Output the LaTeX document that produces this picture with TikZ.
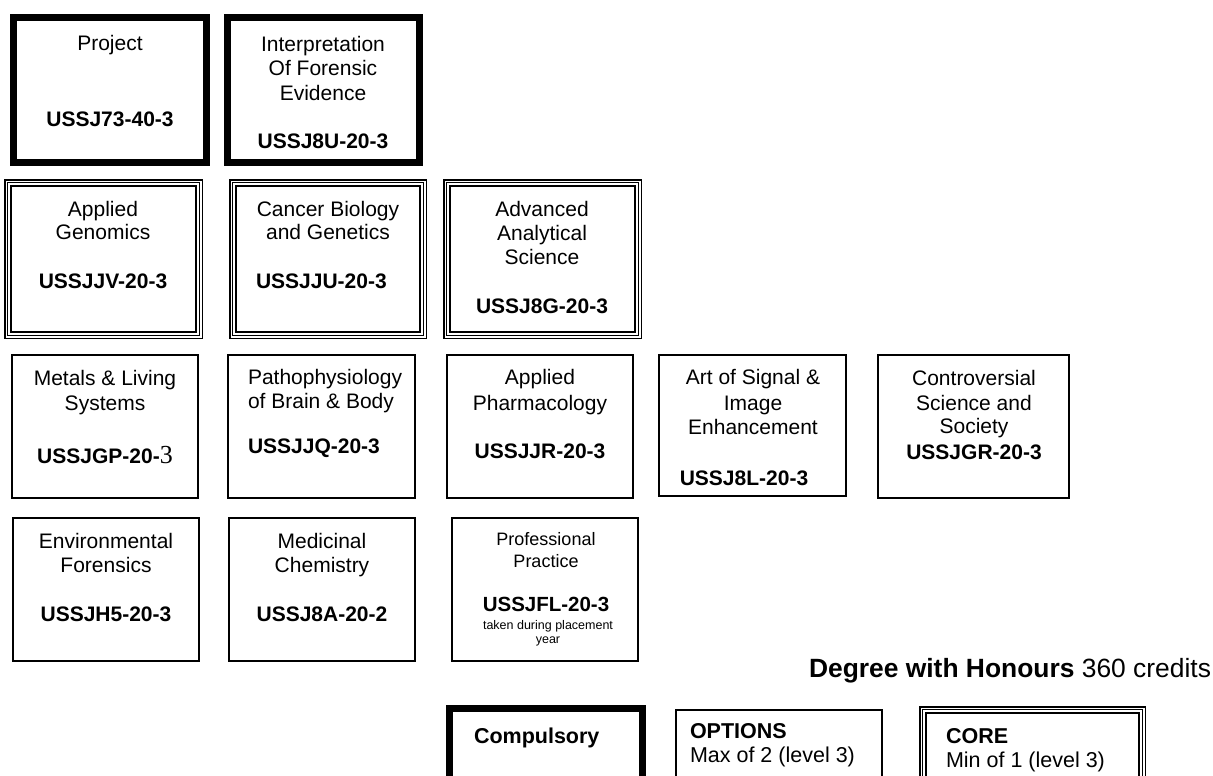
\documentclass[tikz,border=0pt]{standalone}
\usepackage{fontspec}
\setmainfont{Liberation Sans}
\newfontfamily\serifthree{Liberation Serif}
\tikzset{
  every node/.style={inner sep=0pt, outer sep=0pt},
  thinbox/.style={draw, line width=1.6pt, rectangle},
  heavybox/.style={draw, line width=7pt, rectangle},
  triout/.style={draw, line width=1.5pt, rectangle},
  trimid/.style={draw, line width=1pt, rectangle},
  triin/.style={draw, line width=2pt, rectangle},
  ttl/.style={font=\fontsize{21}{24}\selectfont, anchor=base},
  ttlw/.style={font=\fontsize{21}{24}\selectfont, anchor=base west},
  code/.style={font=\fontsize{21}{24}\selectfont\bfseries, anchor=base},
  codew/.style={font=\fontsize{21}{24}\selectfont\bfseries, anchor=base west},
  smallttl/.style={font=\fontsize{18}{22}\selectfont, anchor=base},
  smallcode/.style={font=\fontsize{20.5}{24}\selectfont\bfseries, anchor=base},
  tiny/.style={font=\fontsize{12.5}{14}\selectfont, anchor=base},
  legb/.style={font=\fontsize{21.5}{24}\selectfont\bfseries, anchor=base west},
  legr/.style={font=\fontsize{21.5}{24}\selectfont, anchor=base west},
}
% box by outer corners: style, name, x1, y1, x2, y2, inset
\newcommand\rbox[7]{\node[#1, minimum width={#5pt-#3pt-2*#7pt}, minimum height={#6pt-#4pt-2*#7pt}] (#2) at ({(#3+#5)/2},{(#4+#6)/2}) {};}
\newcommand\tribox[5]{%
  \rbox{triout}{#1}{#2}{#3}{#4}{#5}{0.75}%
  \rbox{trimid}{#1-m}{#2}{#3}{#4}{#5}{3.75}%
  \rbox{triin}{#1-i}{#2}{#3}{#4}{#5}{7}}
\newcommand\tx[5]{\node[#1] (#2) at (#3,#4) {#5};}
\begin{document}
\begin{tikzpicture}[x=1pt,y=-1pt]
\useasboundingbox (0,0) rectangle (1213,776);
\clip (0,0) rectangle (1213,776);
\fill[white] (0,0) rectangle (1213,776);

% ---- Row 1: compulsory
\rbox{heavybox}{proj}{10}{14}{210}{166}{3.5}
\rbox{heavybox}{interp}{224}{14}{423}{166}{3.5}
\tx{ttl}{proj-t1}{110}{51}{Project}
\tx{code}{proj-c}{110}{126}{USSJ73-40-3}
\tx{ttl}{interp-t1}{323}{52}{Interpretation}
\tx{ttl}{interp-t2}{323}{76}{Of Forensic}
\tx{ttl}{interp-t3}{323}{100}{Evidence}
\tx{code}{interp-c}{323}{148}{USSJ8U-20-3}

% ---- Row 2: core
\tribox{gen}{4}{179}{203}{339}
\tribox{canc}{229}{179}{427}{339}
\tribox{adv}{443}{179}{642}{339}
\tx{ttl}{gen-t1}{103}{216}{Applied}
\tx{ttl}{gen-t2}{103}{239}{Genomics}
\tx{code}{gen-c}{103}{288}{USSJJV-20-3}
\tx{ttl}{canc-t1}{328}{216}{Cancer Biology}
\tx{ttl}{canc-t2}{328}{239}{and Genetics}
\tx{codew}{canc-c}{256}{288}{USSJJU-20-3}
\tx{ttl}{adv-t1}{542}{216}{Advanced}
\tx{ttl}{adv-t2}{542}{240}{Analytical}
\tx{ttl}{adv-t3}{542}{264}{Science}
\tx{code}{adv-c}{542}{313}{USSJ8G-20-3}

% ---- Row 3: options
\rbox{thinbox}{met}{11}{354}{199}{499}{0.8}
\rbox{thinbox}{pat}{227}{354}{416}{499}{0.8}
\rbox{thinbox}{pha}{446}{354}{634}{499}{0.8}
\rbox{thinbox}{art}{658}{354}{847}{497}{0.8}
\rbox{thinbox}{con}{877}{354}{1070}{499}{0.8}
\tx{ttl}{met-t1}{105}{385}{Metals \& Living}
\tx{ttl}{met-t2}{105}{410}{Systems}
\tx{code}{met-c}{105}{463}{USSJGP-20-{\serifthree\mdseries\fontsize{26}{28}\selectfont 3}}
\tx{ttlw}{pat-t1}{248}{384}{Pathophysiology}
\tx{ttlw}{pat-t2}{248}{408}{of Brain \& Body}
\tx{codew}{pat-c}{248}{453}{USSJJQ-20-3}
\tx{ttl}{pha-t1}{540}{384}{Applied}
\tx{ttl}{pha-t2}{540}{410}{Pharmacology}
\tx{code}{pha-c}{540}{458}{USSJJR-20-3}
\tx{ttl}{art-t1}{753}{384}{Art of Signal \&}
\tx{ttl}{art-t2}{753}{410}{Image}
\tx{ttl}{art-t3}{753}{434}{Enhancement}
\tx{code}{art-c}{744}{485}{USSJ8L-20-3}
\tx{ttl}{con-t1}{974}{385}{Controversial}
\tx{ttl}{con-t2}{974}{410}{Science and}
\tx{ttl}{con-t3}{974}{433}{Society}
\tx{code}{con-c}{974}{459}{USSJGR-20-3}

% ---- Row 4: options
\rbox{thinbox}{env}{12}{517}{200}{662}{0.8}
\rbox{thinbox}{med}{228}{517}{416}{662}{0.8}
\rbox{thinbox}{pro}{451}{517}{639}{662}{0.8}
\tx{ttl}{env-t1}{106}{548}{Environmental}
\tx{ttl}{env-t2}{106}{572}{Forensics}
\tx{code}{env-c}{106}{621}{USSJH5-20-3}
\tx{ttl}{med-t1}{322}{548}{Medicinal}
\tx{ttl}{med-t2}{322}{572}{Chemistry}
\tx{code}{med-c}{322}{621}{USSJ8A-20-2}
\tx{smallttl}{pro-t1}{546}{545}{Professional}
\tx{smallttl}{pro-t2}{546}{567}{Practice}
\tx{smallcode}{pro-c}{546}{611}{USSJFL-20-3}
\tx{tiny}{pro-n1}{548}{629}{taken during placement}
\tx{tiny}{pro-n2}{548}{643}{year}

% ---- Heading
\node[anchor=base east, font=\fontsize{26.4}{30}\selectfont] (deg) at (1211,677) {\textbf{Degree with Honours} 360 credits};

% ---- Legend
\rbox{heavybox}{comp}{446}{705}{646}{800}{3.5}
\rbox{thinbox}{opt}{675}{709}{883}{800}{0.8}
\tribox{core}{919}{706}{1146}{800}
\tx{legb}{comp-t}{474}{743}{Compulsory}
\tx{legb}{opt-t1}{690}{738}{OPTIONS}
\tx{legr}{opt-t2}{690}{762}{Max of 2 (level 3)}
\tx{legb}{core-t1}{946}{743}{CORE}
\tx{legr}{core-t2}{946}{767}{Min of 1 (level 3)}
\end{tikzpicture}
\end{document}
